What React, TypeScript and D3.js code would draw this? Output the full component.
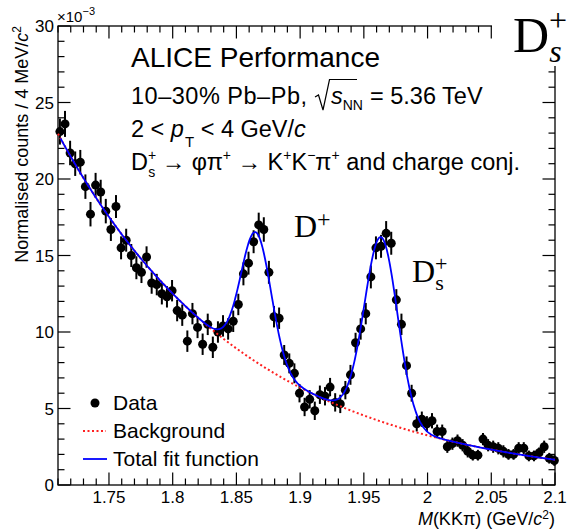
import React from "react";
import * as d3 from "d3";

// Normalised counts per 4 MeV/c^2 bin (in units of 1e-3)
const counts = [
  23.1, 23.6, 21.7, 21.0, 21.1, 19.5, 17.7, 19.6, 19.15, 17.9,
  16.7, 18.2, 15.5, 16.0, 15.0, 14.2, 13.9, 14.9, 13.2, 13.1,
  12.5, 12.3, 12.7, 11.4, 11.1, 9.4, 11.2, 10.3, 9.2, 10.5,
  9.0, 10.0, 10.4, 10.2, 10.7, 11.8, 13.8, 14.5, 15.9, 17.0,
  16.7, 13.9, 11.0, 10.9, 8.5, 7.95, 7.3, 6.0, 5.1, 5.6,
  4.85, 5.9, 5.8, 6.4, 5.4, 5.3, 6.2, 7.2, 9.3, 10.2,
  11.2, 13.6, 15.5, 15.6, 16.45, 15.8, 12.1, 10.5, 7.8, 6.0,
  4.0, 4.3, 4.0, 4.2, 3.5, 3.5, 2.5, 2.7, 2.9, 2.6,
  2.2, 1.95, 1.95, 3.0, 2.6, 2.5, 2.4, 2.2, 2.0, 2.0,
  2.4, 2.4, 1.9, 1.9, 2.1, 2.5, 1.75, 1.6,
];
const errors = [
  0.85, 0.85, 0.8, 0.8, 0.8, 0.8, 0.8, 0.8, 0.8, 0.8,
  0.75, 0.75, 0.75, 0.75, 0.75, 0.75, 0.7, 0.7, 0.7, 0.7,
  0.7, 0.7, 0.7, 0.7, 0.7, 0.7, 0.7, 0.7, 0.7, 0.7,
  0.7, 0.7, 0.7, 0.7, 0.7, 0.7, 0.75, 0.75, 0.75, 0.8,
  0.8, 0.75, 0.7, 0.7, 0.65, 0.65, 0.65, 0.6, 0.6, 0.6,
  0.6, 0.6, 0.6, 0.6, 0.6, 0.6, 0.6, 0.65, 0.65, 0.7,
  0.7, 0.75, 0.75, 0.75, 0.8, 0.75, 0.7, 0.7, 0.6, 0.55,
  0.5, 0.5, 0.5, 0.5, 0.45, 0.45, 0.4, 0.4, 0.4, 0.4,
  0.4, 0.35, 0.35, 0.4, 0.4, 0.4, 0.4, 0.4, 0.35, 0.35,
  0.4, 0.4, 0.35, 0.35, 0.35, 0.4, 0.35, 0.35,
];
const binStart = 1.7095;
const binWidth = 0.004;

const xTickValues = [1.75, 1.8, 1.85, 1.9, 1.95, 2.0, 2.05, 2.1];
const xTickLabels = ["1.75", "1.8", "1.85", "1.9", "1.95", "2", "2.05", "2.1"];
const yTickValues = [0, 5, 10, 15, 20, 25, 30];
const yTickLabels = ["0", "5", "10", "15", "20", "25", "30"];

// fit parameters (exponential background + two Gaussians)
const bkgNorm = 22.5;
const bkgRef = 1.713;
const bkgSlope = 6.75;
const dplusMean = 1.8655;
const dplusSigma = 0.0118;
const dplusAmp = 8.47;
const dsMean = 1.9635;
const dsSigma = 0.013;
const dsAmp = 12.05;

const legendLabels = ["Data", "Background", "Total fit function"];

const W = 569;
const H = 530;
const SANS = "'Liberation Sans', Arial, Helvetica, sans-serif";
const SERIF = "'Liberation Serif', 'Times New Roman', serif";

const bkg = (m: number) => bkgNorm * Math.exp(-bkgSlope * (m - bkgRef));
const gaus = (m: number, mu: number, s: number, a: number) =>
  a * Math.exp(-((m - mu) * (m - mu)) / (2 * s * s));
const total = (m: number) =>
  bkg(m) + gaus(m, dplusMean, dplusSigma, dplusAmp) + gaus(m, dsMean, dsSigma, dsAmp);

export default function App() {
  const x = d3.scaleLinear().domain([1.71, 2.1]).range([58, 555]);
  const y = d3.scaleLinear().domain([0, 30]).range([485, 26]);
  const [x0, x1] = x.range();
  const [y0, y1] = y.range();

  const grid = d3.range(1.712, 2.10001, 0.0005);
  const bkgLine = d3.line<number>().x((m) => x(m)).y((m) => y(bkg(m)))(d3.range(1.71, 2.10001, 0.002)) || "";
  const totLine = d3.line<number>().x((m) => x(m)).y((m) => y(total(m)))(grid) || "";

  const xMinor = d3.range(1.71, 2.1001, 0.01).filter(
    (v) => !xTickValues.some((t) => Math.abs(t - v) < 1e-6)
  );
  const yMinor = d3.range(0, 30.01, 1).filter((v) => v % 5 !== 0);
  const major = 12.5;
  const minor = 6.5;
  const tickStroke = { stroke: "#000", strokeWidth: 1.2 };

  return (
    <svg
      width={W}
      height={H}
      style={{ position: "absolute", left: 0, top: 0, background: "#fff" }}
      fontFamily={SANS}
    >
      <rect x={0} y={0} width={W} height={H} fill="#fff" />

      {/* ticks */}
      {xTickValues.map((t) => (
        <g key={"xt" + t}>
          <line x1={x(t)} x2={x(t)} y1={y0} y2={y0 - major} {...tickStroke} />
          <line x1={x(t)} x2={x(t)} y1={y1} y2={y1 + major} {...tickStroke} />
        </g>
      ))}
      {xMinor.map((t) => (
        <g key={"xm" + t}>
          <line x1={x(t)} x2={x(t)} y1={y0} y2={y0 - minor} {...tickStroke} />
          <line x1={x(t)} x2={x(t)} y1={y1} y2={y1 + minor} {...tickStroke} />
        </g>
      ))}
      {yTickValues.map((t) => (
        <g key={"yt" + t}>
          <line x1={x0} x2={x0 + major} y1={y(t)} y2={y(t)} {...tickStroke} />
          <line x1={x1} x2={x1 - major} y1={y(t)} y2={y(t)} {...tickStroke} />
        </g>
      ))}
      {yMinor.map((t) => (
        <g key={"ym" + t}>
          <line x1={x0} x2={x0 + minor} y1={y(t)} y2={y(t)} {...tickStroke} />
          <line x1={x1} x2={x1 - minor} y1={y(t)} y2={y(t)} {...tickStroke} />
        </g>
      ))}
      <rect x={x0} y={y1} width={x1 - x0} height={y0 - y1} fill="none" stroke="#000" strokeWidth={1.3} />

      {/* tick labels */}
      {xTickValues.map((t, i) => (
        <text key={"xl" + t} x={x(t)} y={503} textAnchor="middle" fontSize={17}>
          {xTickLabels[i]}
        </text>
      ))}
      {yTickValues.map((t, i) => (
        <text key={"yl" + t} x={54} y={y(t) + 6} textAnchor="end" fontSize={17}>
          {yTickLabels[i]}
        </text>
      ))}
      <text x={57} y={22} fontSize={15}>
        ×10<tspan fontSize={11} dy={-7}>−3</tspan>
      </text>

      {/* axis titles */}
      <text transform="translate(28,26) rotate(-90)" textAnchor="end" fontSize={18}>
        Normalised counts / 4 MeV/<tspan fontStyle="italic">c</tspan>
        <tspan fontSize={12} dy={-7}>2</tspan>
      </text>
      <text x={555} y={525} textAnchor="end" fontSize={18}>
        <tspan fontStyle="italic">M</tspan>(KKπ) (GeV/<tspan fontStyle="italic">c</tspan>
        <tspan fontSize={12} dy={-6}>2</tspan>
        <tspan dy={6}>)</tspan>
      </text>

      {/* data */}
      {counts.map((v, i) => {
        const m = binStart + (i + 0.5) * binWidth;
        return (
          <g key={"d" + i}>
            <line
              x1={x(m)}
              x2={x(m)}
              y1={y(v - errors[i])}
              y2={y(v + errors[i])}
              stroke="#000"
              strokeWidth={2}
            />
            <circle cx={x(m)} cy={y(v)} r={4.5} fill="#000" />
          </g>
        );
      })}

      {/* fit functions */}
      <path d={bkgLine} fill="none" stroke="#ff2020" strokeWidth={2} strokeDasharray="2,2.5" />
      <path d={totLine} fill="none" stroke="#0000ff" strokeWidth={1.8} />

      {/* header text */}
      <text x={131} y={67} fontSize={28}>ALICE Performance</text>
      <text x={131} y={104} fontSize={23.5} textLength={176} lengthAdjust="spacing">10–30% Pb–Pb,</text>
      <path d="M315,97 L318.5,95 L323,110 L329.5,79.5 L357,79.5" fill="none" stroke="#000" strokeWidth={1.2} />
      <text x={331} y={104} fontSize={23.5}>
        <tspan fontStyle="italic">s</tspan>
        <tspan fontSize={14} dy={6}>NN</tspan>
        <tspan dy={-6} dx={7}>= 5.36 TeV</tspan>
      </text>
      <text x={131} y={137} fontSize={23.5}>
        {"2 < "}
        <tspan fontStyle="italic">p</tspan>
        <tspan fontSize={15} dy={10} dx={1}>T</tspan>
        <tspan dy={-10}>{" < 4 GeV/"}</tspan>
        <tspan fontStyle="italic">c</tspan>
      </text>
      <text x={131} y={170} fontSize={23.5}>
        D<tspan fontSize={14} dy={-10}>+</tspan>
        <tspan fontSize={14} dx={-8} dy={17}>s</tspan>
        <tspan dy={-7}>{" → φπ"}</tspan>
        <tspan fontSize={14} dy={-10}>+</tspan>
        <tspan dy={10}>{" → K"}</tspan>
        <tspan fontSize={14} dy={-10}>+</tspan>
        <tspan dy={10}>K</tspan>
        <tspan fontSize={14} dy={-10}>−</tspan>
        <tspan dy={10}>π</tspan>
        <tspan fontSize={14} dy={-10}>+</tspan>
        <tspan dy={10}>{" and charge conj."}</tspan>
      </text>

      {/* top-right label */}
      <rect x={492} y={0} width={77} height={66} fill="#fff" />
      <text x={513} y={52} fontSize={50} fontFamily={SERIF}>
        D<tspan fontSize={32} dy={-21}>+</tspan>
        <tspan fontSize={32} fontStyle="italic" dx={-18} dy={31}>s</tspan>
      </text>

      {/* peak labels */}
      <text x={294} y={237} fontSize={32} fontFamily={SERIF}>
        D<tspan fontSize={24} dy={-10}>+</tspan>
      </text>
      <text x={412} y={282} fontSize={32} fontFamily={SERIF}>
        D<tspan fontSize={22} dy={-11}>+</tspan>
        <tspan fontSize={22} dx={-12.4} dy={19}>s</tspan>
      </text>

      {/* legend */}
      <circle cx={95} cy={403} r={4.5} fill="#000" />
      <text x={113} y={410} fontSize={21}>{legendLabels[0]}</text>
      <line x1={83} x2={106} y1={431} y2={431} stroke="#ff2020" strokeWidth={2} strokeDasharray="2,2.5" />
      <text x={113} y={438} fontSize={21}>{legendLabels[1]}</text>
      <line x1={83} x2={107} y1={459} y2={459} stroke="#0000ff" strokeWidth={1.8} />
      <text x={113} y={466} fontSize={21}>{legendLabels[2]}</text>
    </svg>
  );
}
